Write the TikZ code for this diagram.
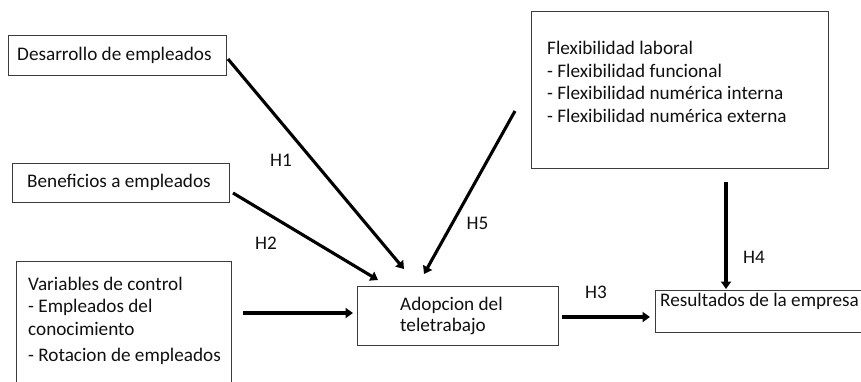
\documentclass[tikz,border=0pt]{standalone}
\usepackage{fontspec}
\setmainfont{Carlito}
\usetikzlibrary{arrows.meta}
\definecolor{txt}{HTML}{101010}
\definecolor{frame}{HTML}{3C3C3C}
\begin{document}
\begin{tikzpicture}[x=1pt,y=-1pt,
  box/.style={draw=frame,line width=0.9pt,inner sep=0pt,anchor=north west},
  lbl/.style={anchor=base west,inner sep=0pt,text=txt,font=\fontsize{19.2}{23}\selectfont},
  link/.style={line width=3.1pt,-{Triangle[length=7.5pt,width=10pt]}}]
\clip (0,0) rectangle (861,381);

% boxes, placed by their top left corners
\node[box,minimum width=218pt,minimum height=40pt] (desa) at (8,35) {};
\node[box,minimum width=217pt,minimum height=39pt] (bene) at (12,163) {};
\node[box,minimum width=215pt,minimum height=140pt] (vars) at (16,261) {};
\node[box,minimum width=201pt,minimum height=59pt] (adop) at (357,286) {};
\node[box,minimum width=297pt,minimum height=157pt] (flex) at (531,11) {};
\node[box,minimum width=230pt,minimum height=42pt] (resu) at (655,290) {};

% texts
\node[lbl] (tdesa) at (17,60.5) {Desarrollo de empleados};
\node[lbl] (tbene) at (27,187) {Beneficios a empleados};
\node[lbl] (tv1) at (28,290.5) {Variables de control};
\node[lbl] (tv2) at (28,312) {- Empleados del};
\node[lbl] (tv3) at (28,335) {conocimiento};
\node[lbl] (tv4) at (28,361.5) {- Rotacion de empleados};
\node[lbl] (ta1) at (400,310) {Adopcion del};
\node[lbl] (ta2) at (400,331.5) {teletrabajo};
\node[lbl] (tf1) at (547,54.5) {Flexibilidad laboral};
\node[lbl] (tf2) at (547,77) {- Flexibilidad funcional};
\node[lbl] (tf3) at (547,99.5) {- Flexibilidad numérica interna};
\node[lbl] (tf4) at (547,122) {- Flexibilidad numérica externa};
\node[lbl] (tres) at (660,306.5) {Resultados de la empresa};

% hypothesis labels
\node[lbl] (h1) at (270,166.5) {H1};
\node[lbl] (h2) at (255,249) {H2};
\node[lbl] (h3) at (585,298) {H3};
\node[lbl] (h4) at (743,263) {H4};
\node[lbl] (h5) at (466.5,229.5) {H5};

% arrow end points
\coordinate (h1s) at (228,59);
\coordinate (h1e) at (404,269);
\coordinate (h2s) at (233,193);
\coordinate (h2e) at (378,280);
\coordinate (h5s) at (515,111);
\coordinate (h5e) at (424,274);
\coordinate (cvs) at (243,313);
\coordinate (cve) at (353,313);
\coordinate (h3s) at (562,317);
\coordinate (h3e) at (650,317);
\coordinate (h4s) at (726,182);
\coordinate (h4e) at (726,289);

\draw[link] (h1s) -- (h1e);
\draw[link] (h2s) -- (h2e);
\draw[link] (h5s) -- (h5e);
\draw[link] (cvs) -- (cve);
\draw[link] (h3s) -- (h3e);
\draw[link] (h4s) -- (h4e);
\end{tikzpicture}
\end{document}
